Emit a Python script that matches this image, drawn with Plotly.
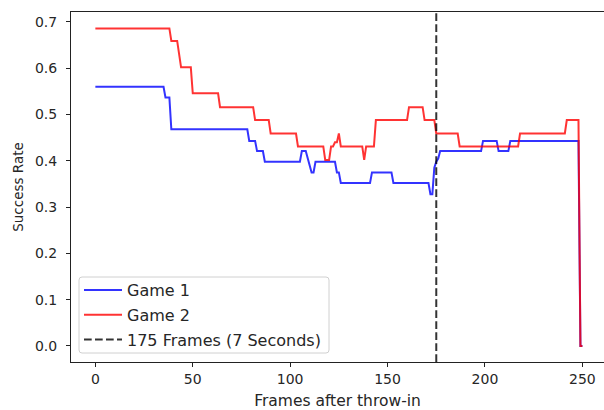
import plotly.graph_objects as go

# Game 1 (blue) polyline vertices: frame, success rate
game1_frames = [0, 35, 36, 38, 39, 78, 79, 82, 83, 86, 87, 105, 106, 108, 111, 112, 113,
                123, 124, 125, 126, 141, 142, 152, 153, 171, 172, 173, 174, 175, 176, 177,
                198, 199, 206, 207, 212, 213, 248, 249, 250]
game1_rate = [0.560, 0.560, 0.537, 0.537, 0.468, 0.468, 0.443, 0.443, 0.421, 0.421, 0.398,
              0.398, 0.421, 0.421, 0.375, 0.375, 0.398,
              0.398, 0.375, 0.375, 0.352, 0.352, 0.375, 0.375, 0.352, 0.352, 0.328, 0.328,
              0.385, 0.398, 0.405, 0.421,
              0.421, 0.443, 0.443, 0.421, 0.421, 0.443, 0.443, 0.0, 0.0]

# Game 2 (red) polyline vertices
game2_frames = [0, 38, 39, 42, 44, 49, 50, 63, 64, 81, 82, 89, 90, 103, 104, 117, 118, 120,
                121, 122, 123, 124, 125, 126, 137, 138, 139, 143, 144, 160, 161, 168, 169,
                174, 175, 186, 187, 217, 218, 241, 242, 248, 249, 250]
game2_rate = [0.686, 0.686, 0.659, 0.659, 0.602, 0.602, 0.546, 0.546, 0.516, 0.516, 0.488,
              0.488, 0.459, 0.459, 0.431, 0.431, 0.402, 0.402,
              0.431, 0.431, 0.440, 0.440, 0.459, 0.431, 0.431, 0.402, 0.431, 0.431, 0.488,
              0.488, 0.516, 0.516, 0.488,
              0.488, 0.459, 0.459, 0.431, 0.431, 0.459, 0.459, 0.488, 0.488, 0.0, 0.0]

cutoff_frame = 175
x_ticks = [0, 50, 100, 150, 200, 250]
y_ticks = [0.0, 0.1, 0.2, 0.3, 0.4, 0.5, 0.6, 0.7]

FONT = "DejaVu Sans"
W, H = 604, 410
ML, MR, MT, MB = 71, 0, 12, 48
PW, PH = W - ML - MR, H - MT - MB


def px_to_paper(px, py):
    return (px - ML) / PW, (H - MB - py) / PH


fig = go.Figure()
fig.add_trace(go.Scatter(x=game1_frames, y=game1_rate, mode="lines", name="Game 1",
                         legendgroup="g1",
                         line=dict(color="rgba(0,0,255,0.8)", width=2)))
fig.add_trace(go.Scatter(x=game2_frames, y=game2_rate, mode="lines", name="Game 2",
                         legendgroup="g2",
                         line=dict(color="rgba(255,0,0,0.8)", width=2)))
fig.add_shape(type="line", x0=cutoff_frame, x1=cutoff_frame, y0=0, y1=1,
              xref="x", yref="paper",
              line=dict(color="rgba(0,0,0,0.8)", width=2, dash="7.7px,3.3px"),
              showlegend=True, name="175 Frames (7 Seconds)", legendgroup="g3")

# legend frame (rounded box like matplotlib's)
x0, y0 = px_to_paper(79, 353)
x1, y1 = px_to_paper(329, 277)
rx, ry = 3 / PW, 3 / PH
path = (f"M {x0+rx},{y0} L {x1-rx},{y0} Q {x1},{y0} {x1},{y0+ry} "
        f"L {x1},{y1-ry} Q {x1},{y1} {x1-rx},{y1} L {x0+rx},{y1} "
        f"Q {x0},{y1} {x0},{y1-ry} L {x0},{y0+ry} Q {x0},{y0} {x0+rx},{y0} Z")
fig.add_shape(type="path", path=path, xref="paper", yref="paper",
              fillcolor="rgba(255,255,255,0.8)", line=dict(color="#d0d0d0", width=1),
              layer="above")

lx, ly = px_to_paper(79, 273)
fig.update_layout(
    width=W, height=H,
    margin=dict(l=ML, r=MR, t=MT, b=MB),
    paper_bgcolor="white", plot_bgcolor="white",
    font=dict(family=FONT, size=14, color="#262626"),
    showlegend=True,
    legend=dict(x=lx, y=ly, xanchor="left", yanchor="top",
                bgcolor="rgba(0,0,0,0)", borderwidth=0,
                font=dict(family=FONT, size=16, color="#262626"),
                itemwidth=38, tracegroupgap=1),
)
fig.update_xaxes(range=[-12.5, 261.1], tickvals=x_ticks, ticktext=[str(v) for v in x_ticks],
                 ticks="outside", ticklen=4, tickcolor="#222", tickwidth=1,
                 showline=True, linecolor="#222", linewidth=1, mirror=True,
                 showgrid=False, zeroline=False,
                 title=dict(text="Frames after throw-in", font=dict(family=FONT, size=15.5),
                            standoff=11))
fig.update_yaxes(range=[-0.0346, 0.7215], tickvals=y_ticks,
                 ticktext=[f"{v:.1f}" for v in y_ticks],
                 ticks="outside", ticklen=4, tickcolor="#222", tickwidth=1,
                 showline=True, linecolor="#222", linewidth=1,
                 showgrid=False, zeroline=False, ticklabelstandoff=6,
                 title=dict(text="Success Rate", font=dict(family=FONT, size=13.5),
                            standoff=8))

fig.write_html("out.html")
